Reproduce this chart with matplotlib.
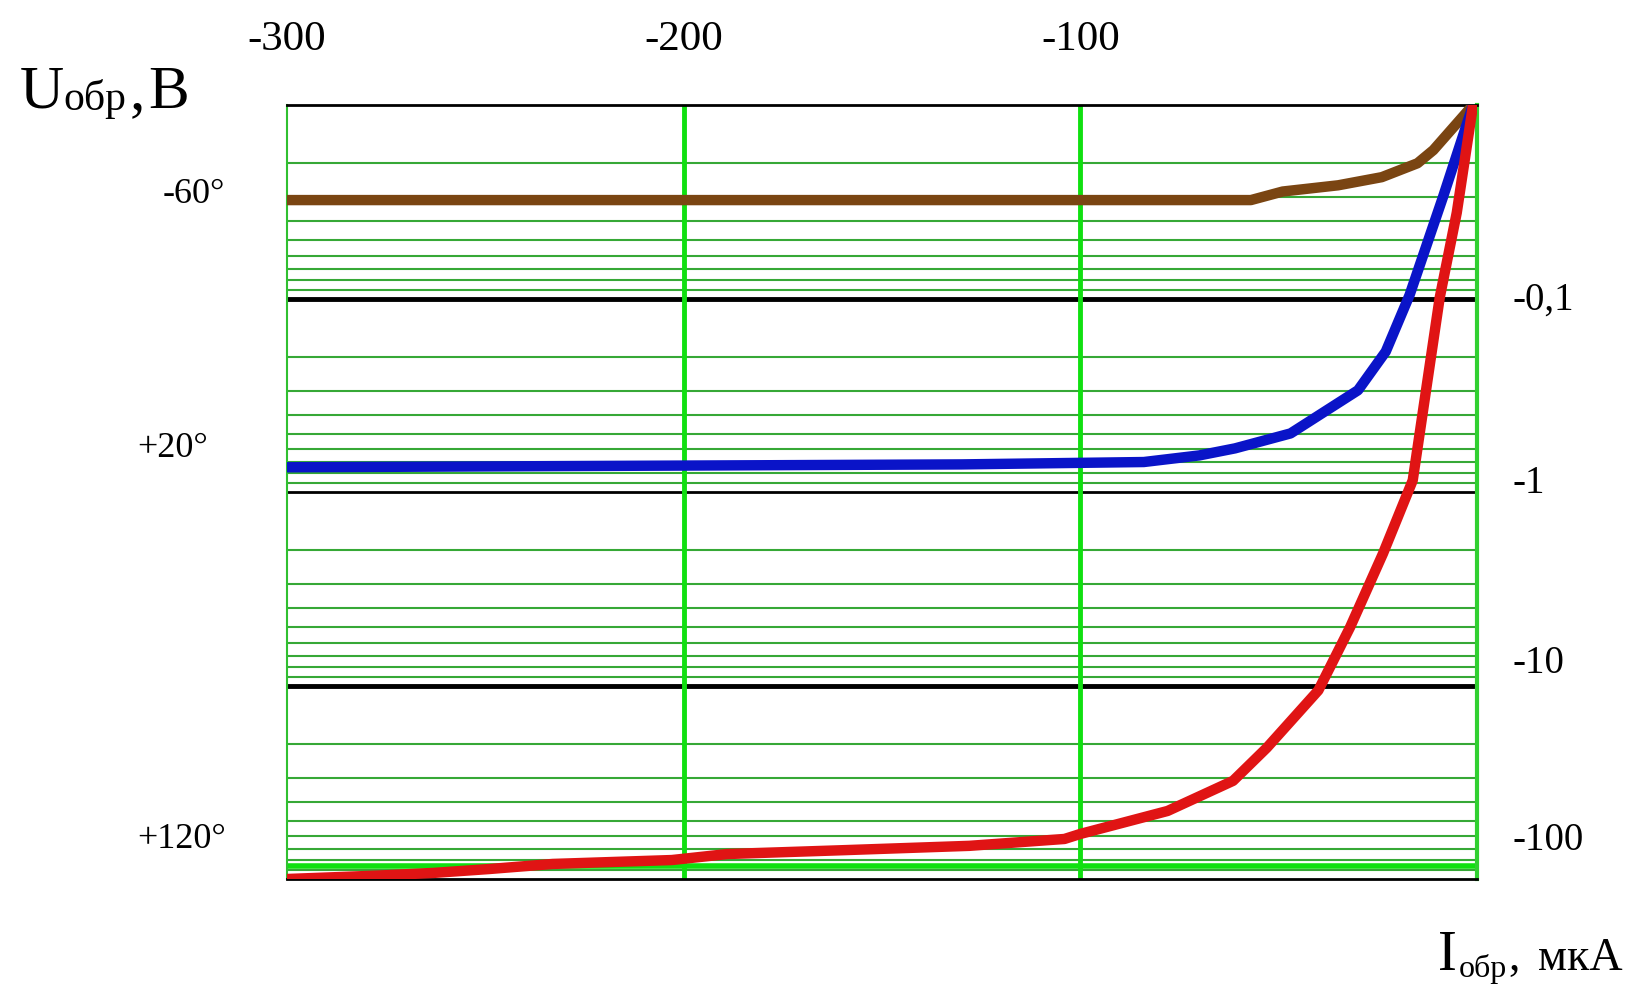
import matplotlib
matplotlib.use("Agg")
import matplotlib.pyplot as plt

plt.rcParams['font.family'] = ['Liberation Serif', 'DejaVu Serif']

# U (V) on the top axis, |I| (uA) on a log scale growing downwards
u_ticks = [-300, -200, -100]
i_decades = [0.1, 1, 10, 100]
i_labels = ['-0,1', '-1', '-10', '-100']

# -60 deg
u_brown = [-300, -57, -49, -35, -24, -15, -11, -1]
i_brown = [0.031, 0.031, 0.028, 0.026, 0.0236, 0.020, 0.0171, 0.01]
# +20 deg
u_blue = [-300, -130, -84, -70, -61, -47, -30, -23, -17, -8.6, -1]
i_blue = [0.745, 0.72, 0.70, 0.647, 0.595, 0.498, 0.298, 0.188, 0.096, 0.030, 0.01]
# +120 deg
u_red = [-300, -277, -263, -249, -233, -203, -189, -160, -128, -104, -100,
         -78, -61.5, -53, -40, -32, -23.7, -16.2, -9.4, -5.1, -1]
i_red = [100, 96, 93, 88.8, 83.6, 79.8, 74.3, 71, 67.4, 62.1, 58.5,
         44.5, 31.1, 21.0, 10.6, 5.0, 2.08, 0.87, 0.099, 0.036, 0.01]

temp_labels = ['-60\u00b0', '+20\u00b0', '+120\u00b0']


def fx(px):
    return px / 1645


def fy(py):
    return 1 - py / 990


fig = plt.figure(figsize=(16.45, 9.9), dpi=100)
ax = fig.add_axes([fx(287), fy(879), (1477 - 287) / 1645, (879 - 105) / 990])
ax.set_yscale('log')
ax.set_xlim(-300, 0)
ax.set_ylim(100, 0.01)
ax.set_yticks([])
ax.yaxis.set_minor_locator(matplotlib.ticker.NullLocator())

# grid
for d in [0.01, 0.1, 1, 10]:
    for m in range(2, 10):
        ax.axhline(m * d, color='#36a836', lw=1.5, zorder=1)
ax.axhline(86, color='#10e010', lw=4, zorder=1)
for v, w in zip(i_decades[:3], [3.5, 2.0, 3.5]):
    ax.axhline(v, color='black', lw=w, zorder=2)
for v in u_ticks[1:]:
    ax.axvline(v, color='#10e010', lw=3.5, zorder=2)

ax.spines['top'].set_linewidth(2)
ax.spines['bottom'].set_linewidth(2)
ax.spines['left'].set_color('#30c030')
ax.spines['left'].set_linewidth(1.5)
ax.spines['right'].set_color('#30d030')
ax.spines['right'].set_linewidth(3)

# curves
ax.plot(u_brown, i_brown, color='#7a4512', lw=7.5, zorder=3)
ax.plot(u_blue, i_blue, color='#0a14c8', lw=7.5, zorder=4)
ax.plot(u_red, i_red, color='#e01414', lw=7.5, zorder=5)

# top axis labels
ax.xaxis.tick_top()
ax.set_xticks(u_ticks)
ax.set_xticklabels([str(t) for t in u_ticks], fontsize=31)
ax.tick_params(axis='x', length=0, pad=33)

# right axis labels (drawn a bit above their lines, as in the source)
right_base = [310, 493, 673, 850]
for lab, b in zip(i_labels, right_base):
    fig.text(fx(1513), fy(b), lab, fontsize=28, va='baseline', ha='left')

# temperature labels
temp_pos = [(163, 203), (137, 457), (137, 848)]
for lab, (px, b) in zip(temp_labels, temp_pos):
    fig.text(fx(px), fy(b), lab, fontsize=26, va='baseline', ha='left')

# axis titles
fig.text(fx(20), fy(108), 'U', fontsize=44, va='baseline')
fig.text(fx(63), fy(110), '\u043e\u0431\u0440', fontsize=30, va='baseline')
fig.text(fx(130), fy(108), ',', fontsize=44, va='baseline')
fig.text(fx(148), fy(108), 'B', fontsize=44, va='baseline')

fig.text(fx(1438), fy(970), 'I', fontsize=41, va='baseline')
fig.text(fx(1459), fy(977), '\u043e\u0431\u0440', fontsize=23, va='baseline')
fig.text(fx(1508), fy(970), ',', fontsize=33, va='baseline')
fig.text(fx(1538), fy(970), '\u043c\u043a\u0410', fontsize=33, va='baseline')

fig.savefig('out.png', dpi=100, facecolor='white')
